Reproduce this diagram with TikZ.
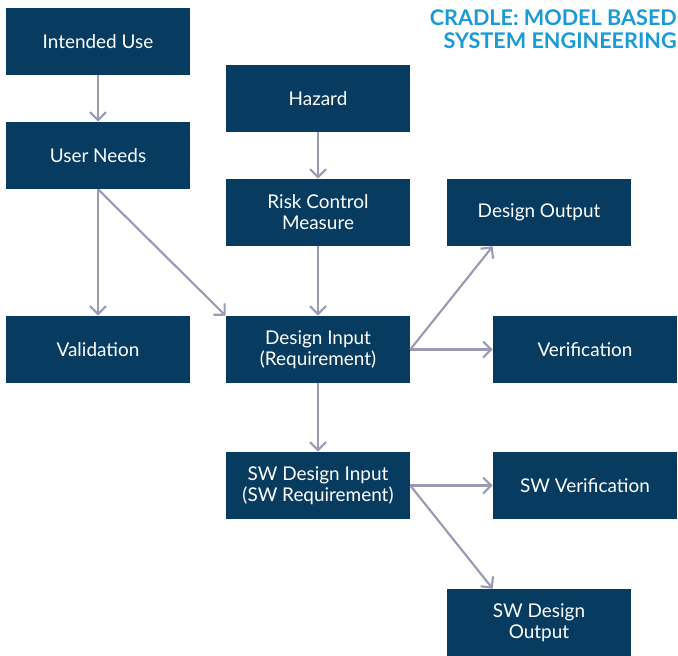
\documentclass[tikz,border=0pt]{standalone}
\usepackage{fontspec}
\setmainfont{Lato}
\usetikzlibrary{arrows.meta}
\definecolor{boxblue}{HTML}{073B5F}
\definecolor{linkgray}{HTML}{9A9AB4}
\definecolor{titleblue}{HTML}{1A9AD6}
\begin{document}
\begin{tikzpicture}[x=0.75pt,y=-0.75pt,
  stepbox/.style={fill=boxblue,text=white,minimum width=138pt,minimum height=50.25pt,
    inner sep=0pt,align=center,font=\fontsize{14.2}{15.9}\selectfont},
  link/.style={draw=linkgray,line width=1.6pt,-{Straight Barb[length=6pt,width=12pt,line width=1.6pt]}}]
\useasboundingbox (0,0) rectangle (678,656);
% boxes
\node[stepbox] (iu) at (98,41.5) {Intended Use};
\node[stepbox] (un) at (98,155.5) {User Needs};
\node[stepbox] (val) at (98,349.5) {Validation};
\node[stepbox] (haz) at (318,98.5) {Hazard};
\node[stepbox] (rcm) at (318,212.5) {Risk Control\\Measure};
\node[stepbox] (di) at (318,349.5) {Design Input\\(Requirement)};
\node[stepbox] (swdi) at (318,485.5) {SW Design Input\\(SW Requirement)};
\node[stepbox] (do) at (539,212.5) {Design Output};
\node[stepbox] (ver) at (585,349.5) {Verification};
\node[stepbox] (swv) at (585,485.5) {SW Verification};
\node[stepbox] (swdo) at (539,622.5) {SW Design\\Output};
% title
\node[anchor=north east,align=right,text=titleblue,inner sep=0pt,
  font=\fontsize{16.2}{17.3}\bfseries\selectfont] (title) at (677,9)
  {CRADLE: MODEL BASED\\SYSTEM ENGINEERING};
% connectors
\draw[link] (iu.south) -- (un.north);
\draw[link] (un.south) -- (val.north);
\draw[link] (un.south) -- (di.north west);
\draw[link] (haz.south) -- (rcm.north);
\draw[link] (rcm.south) -- (di.north);
\draw[link] (di.south) -- (swdi.north);
\draw[link] (di.east) -- (do.south -| ver.west);
\draw[link] (di.east) -- (ver.west);
\draw[link] (swdi.east) -- (swv.west);
\draw[link] (swdi.east) -- (swdo.north -| swv.west);
\end{tikzpicture}
\end{document}
